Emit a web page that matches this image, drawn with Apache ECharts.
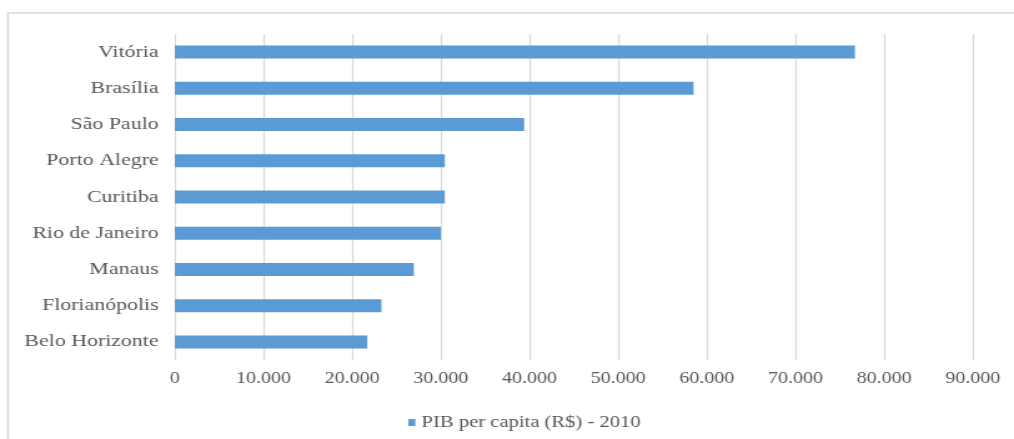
<!DOCTYPE html>
<html>
<head>
<meta charset="utf-8">
<script src="https://cdn.jsdelivr.net/npm/echarts@6/dist/echarts.min.js"></script>
<style>
  html, body { margin: 0; padding: 0; background: #ffffff; overflow: hidden; }
  #wrap { width: 1014px; height: 439px; overflow: hidden; }
  /* the chart is laid out narrower and widened, giving the wide serif lettering */
  #chart { width: 812px; height: 439px; transform: scaleX(1.2488); transform-origin: 0 0; }
</style>
</head>
<body>
<div id="wrap"><div id="chart"></div></div>
<script>
// Capitals, top to bottom
const cities = ['Vitória', 'Brasília', 'São Paulo', 'Porto Alegre', 'Curitiba',
  'Rio de Janeiro', 'Manaus', 'Florianópolis', 'Belo Horizonte'];
// PIB per capita (R$), 2010
const pibPerCapita = [76700, 58500, 39400, 30450, 30450, 30000, 26950, 23300, 21700];
const seriesName = 'PIB per capita (R$) - 2010';
const xTickLabels = ['0', '10.000', '20.000', '30.000', '40.000', '50.000',
  '60.000', '70.000', '80.000', '90.000'];
const xStep = 10000;

const textColor = '#595959';
const gridColor = '#d9d9d9';
const barColor = '#5b9bd5';
const font = 'Liberation Serif, Times New Roman, serif';

const chart = echarts.init(document.getElementById('chart'));
chart.setOption({
  animation: false,
  backgroundColor: '#ffffff',
  graphic: [{
    type: 'rect',
    shape: { x: 6.4, y: 13, width: 900, height: 500 },
    style: { fill: 'none', stroke: gridColor, lineWidth: 1.5 },
    silent: true
  }],
  grid: { left: 140, right: 33, top: 34, bottom: 79, containLabel: false },
  legend: {
    data: [seriesName],
    left: 322,
    top: 409,
    icon: 'rect',
    itemWidth: 5.6,
    itemHeight: 7,
    itemGap: 5,
    textStyle: { color: textColor, fontFamily: font, fontSize: 16.5, padding: [0, 0, 0, 0] }
  },
  xAxis: {
    type: 'value',
    min: 0,
    max: xStep * (xTickLabels.length - 1),
    interval: xStep,
    axisLine: { show: false },
    axisTick: { show: false },
    splitLine: { show: true, lineStyle: { color: gridColor, width: 1.2 } },
    axisLabel: {
      color: textColor,
      fontFamily: font,
      fontSize: 16,
      margin: 11,
      formatter: v => xTickLabels[Math.round(v / xStep)]
    }
  },
  yAxis: {
    type: 'category',
    data: cities,
    inverse: true,
    axisLine: { show: false },
    axisTick: { show: false },
    axisLabel: { color: textColor, fontFamily: font, fontSize: 17.5, margin: 13 }
  },
  series: [{
    name: seriesName,
    type: 'bar',
    data: pibPerCapita,
    barWidth: 13,
    itemStyle: { color: barColor }
  }]
});
</script>
</body>
</html>
